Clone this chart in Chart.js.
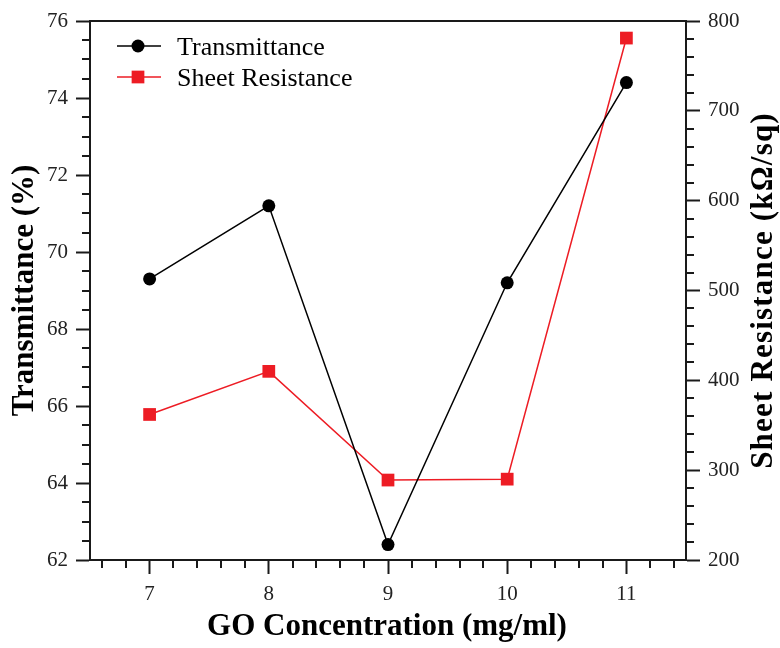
<!DOCTYPE html>
<html>
<head>
<meta charset="utf-8">
<script src="https://cdn.jsdelivr.net/npm/chart.js@4.4.1/dist/chart.umd.min.js"></script>
<style>
  html, body { margin: 0; padding: 0; background: #ffffff; }
  #wrap { width: 780px; height: 648px; position: relative; }
</style>
</head>
<body>
<div id="wrap"><canvas id="c" width="780" height="648"></canvas></div>
<script>
// ---- data ----
const concentrations = [7, 8, 9, 10, 11];
const transmittance = [69.3, 71.2, 62.4, 69.2, 74.4];
const sheetResistance = [362, 410, 289, 290, 781];
const xTickValues = [7, 8, 9, 10, 11];
const leftTickValues = [62, 64, 66, 68, 70, 72, 74, 76];
const rightTickValues = [200, 300, 400, 500, 600, 700, 800];
const seriesNames = ['Transmittance', 'Sheet Resistance'];
const xTitle = 'GO Concentration (mg/ml)';
const leftTitle = 'Transmittance (%)';
const rightTitle = 'Sheet Resistance (kΩ/sq)';

const AXIS = '#1a1a1a';
const RED = '#ed1c24';
const BLACK = '#000000';
const SERIF = '"Liberation Serif", "Times New Roman", serif';

const tickFont = { family: SERIF, size: 21 };

function fixedTicks(values) {
  return function (scale) { scale.ticks = values.map(v => ({ value: v })); };
}

const minorTicks = {
  id: 'minorTicks',
  afterDraw(chart) {
    const ctx = chart.ctx;
    const ca = chart.chartArea;
    const x = chart.scales.x, yl = chart.scales.yL, yr = chart.scales.yR;
    ctx.save();
    ctx.strokeStyle = AXIS;
    ctx.lineWidth = 2;
    const len = 8;
    ctx.beginPath();
    for (let i = 33; i <= 57; i++) {
      const v = i / 5;
      if (Math.abs(v - Math.round(v)) < 1e-6) continue;
      const px = Math.round(x.getPixelForValue(v));
      ctx.moveTo(px, ca.bottom); ctx.lineTo(px, ca.bottom + len);
    }
    for (let i = 124; i <= 152; i++) {
      if (i % 4 === 0) continue;
      const py = Math.round(yl.getPixelForValue(i / 2));
      ctx.moveTo(ca.left, py); ctx.lineTo(ca.left - len, py);
    }
    for (let v = 200; v <= 800; v += 20) {
      if (v % 100 === 0) continue;
      const py = Math.round(yr.getPixelForValue(v));
      ctx.moveTo(ca.right, py); ctx.lineTo(ca.right + len, py);
    }
    ctx.stroke();
    ctx.beginPath();
    ctx.moveTo(ca.left, ca.top); ctx.lineTo(ca.right, ca.top);
    ctx.stroke();
    ctx.restore();
  }
};

const titlesAndLegend = {
  id: 'titlesAndLegend',
  afterDraw(chart) {
    const ctx = chart.ctx;
    const ca = chart.chartArea;
    ctx.save();
    ctx.fillStyle = '#000';
    ctx.font = 'bold 31px ' + SERIF;
    ctx.textAlign = 'center';
    ctx.textBaseline = 'middle';
    ctx.fillText(xTitle, (ca.left + ca.right) / 2 - 1, 627);
    ctx.save();
    ctx.translate(25, (ca.top + ca.bottom) / 2);
    ctx.rotate(-Math.PI / 2);
    ctx.fillText(leftTitle, 0, 0);
    ctx.restore();
    ctx.save();
    ctx.translate(764, (ca.top + ca.bottom) / 2);
    ctx.rotate(-Math.PI / 2);
    if ('letterSpacing' in ctx) ctx.letterSpacing = '1.2px';
    ctx.fillText(rightTitle, 0, 0);
    ctx.restore();

    const ds = chart.data.datasets;
    const rows = [46, 77];
    ds.forEach((d, i) => {
      const y = rows[i];
      ctx.strokeStyle = d.borderColor;
      ctx.lineWidth = d.borderWidth;
      ctx.beginPath();
      ctx.moveTo(117, y); ctx.lineTo(161, y);
      ctx.stroke();
      ctx.fillStyle = d.pointBackgroundColor;
      ctx.beginPath();
      if (d.pointStyle === 'rect') {
        const s = d.pointRadius * Math.SQRT1_2;
        ctx.rect(138 - s, y - s, 2 * s, 2 * s);
      } else {
        ctx.arc(138, y, d.pointRadius, 0, Math.PI * 2);
      }
      ctx.fill();
      ctx.fillStyle = '#000';
      ctx.font = '26px ' + SERIF;
      ctx.textAlign = 'left';
      ctx.textBaseline = 'alphabetic';
      ctx.fillText(d.label, 177, y + 9);
    });
    ctx.restore();
  }
};

const ctx = document.getElementById('c').getContext('2d');
new Chart(ctx, {
  type: 'line',
  data: {
    datasets: [
      {
        label: seriesNames[0],
        data: concentrations.map((c, i) => ({ x: c, y: transmittance[i] })),
        yAxisID: 'yL',
        borderColor: BLACK,
        borderWidth: 1.5,
        pointStyle: 'circle',
        pointRadius: 6.5,
        pointBackgroundColor: BLACK,
        pointBorderColor: BLACK,
        pointBorderWidth: 0,
        tension: 0,
        order: 0
      },
      {
        label: seriesNames[1],
        data: concentrations.map((c, i) => ({ x: c, y: sheetResistance[i] })),
        yAxisID: 'yR',
        borderColor: RED,
        borderWidth: 1.5,
        pointStyle: 'rect',
        pointRadius: 9,
        pointBackgroundColor: RED,
        pointBorderColor: RED,
        pointBorderWidth: 0,
        tension: 0,
        order: 1
      }
    ]
  },
  options: {
    responsive: false,
    animation: false,
    devicePixelRatio: 1,
    layout: { padding: { top: 21, left: 0, right: 0, bottom: 0 } },
    plugins: {
      legend: { display: false },
      tooltip: { enabled: false }
    },
    scales: {
      x: {
        type: 'linear',
        position: 'bottom',
        min: 6.5,
        max: 11.5,
        afterBuildTicks: fixedTicks(xTickValues),
        afterFit(s) { s.height = 88; },
        grid: { drawOnChartArea: false, drawTicks: true, tickLength: 14, tickWidth: 2, tickColor: AXIS },
        border: { display: true, color: AXIS, width: 2 },
        ticks: { font: tickFont, color: '#222', padding: 8, maxRotation: 0 }
      },
      yL: {
        type: 'linear',
        position: 'left',
        min: 62,
        max: 76,
        afterBuildTicks: fixedTicks(leftTickValues),
        afterFit(s) { s.width = 90; },
        grid: { drawOnChartArea: false, drawTicks: true, tickLength: 14, tickWidth: 2, tickColor: AXIS },
        border: { display: true, color: AXIS, width: 2 },
        ticks: { font: tickFont, color: '#222', padding: 8 }
      },
      yR: {
        type: 'linear',
        position: 'right',
        min: 200,
        max: 800,
        afterBuildTicks: fixedTicks(rightTickValues),
        afterFit(s) { s.width = 94; },
        grid: { drawOnChartArea: false, drawTicks: true, tickLength: 14, tickWidth: 2, tickColor: AXIS },
        border: { display: true, color: AXIS, width: 2 },
        ticks: { font: tickFont, color: '#222', padding: 8 }
      }
    }
  },
  plugins: [minorTicks, titlesAndLegend]
});
</script>
</body>
</html>
